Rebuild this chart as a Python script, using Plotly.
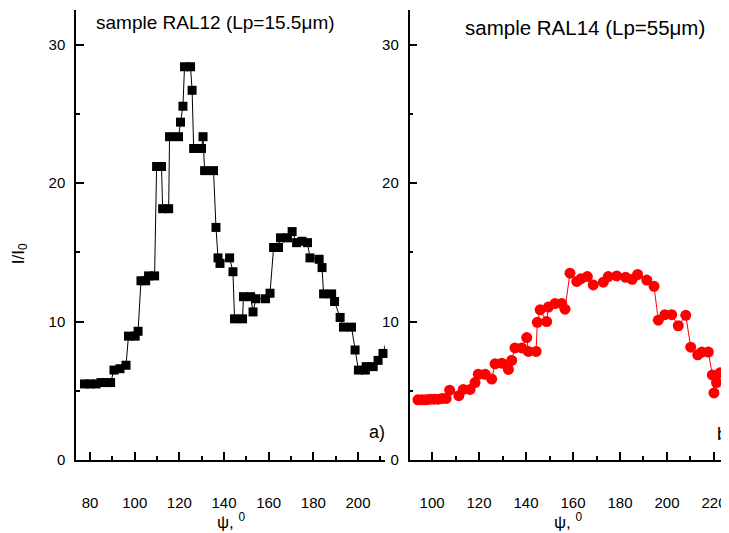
import plotly.graph_objects as go

# Panel a) sample RAL12 (black squares)
psi_a = [77.5, 80.0, 82.7, 84.9, 87.2, 89.2, 90.7, 93.4, 96.1, 97.2,
         100.2, 101.5, 102.8, 104.9, 106.2, 108.9, 109.8, 112.0, 112.5, 115.2,
         115.6, 119.6, 120.5, 121.6, 122.3, 125.0, 125.7, 126.4, 129.9, 130.6,
         131.3, 135.3, 136.4, 137.3, 138.2, 142.5, 144.0, 144.7, 148.3, 148.7,
         151.9, 153.0, 154.3, 158.6, 160.6, 162.2, 164.4, 165.3, 168.4, 170.5,
         172.5, 174.9, 177.4, 178.5, 182.6, 183.9, 184.6, 188.2, 189.5, 192.0,
         193.5, 197.1, 198.7, 200.2, 203.3, 203.7, 206.8, 209.0, 211.2, 213.4,
         213.9]
I_a = [5.5, 5.5, 5.5, 5.6, 5.6, 5.6, 6.5, 6.6, 6.85, 8.95,
       8.95, 9.3, 12.95, 12.95, 13.3, 13.3, 21.2, 21.2, 18.15, 18.15,
       23.35, 23.35, 24.4, 25.55, 28.4, 28.4, 26.7, 22.5, 22.5, 23.35,
       20.9, 20.9, 16.8, 14.6, 14.2, 14.6, 13.6, 10.2, 10.2, 11.8,
       11.8, 10.7, 11.65, 11.65, 12.05, 15.35, 15.35, 16.05, 16.05, 16.5,
       15.7, 15.8, 15.7, 14.6, 14.5, 13.9, 12.0, 12.0, 11.45, 10.3,
       9.6, 9.6, 7.95, 6.5, 6.5, 6.75, 6.75, 7.2, 7.7, 9.0,
       7.6]

# Panel b) sample RAL14 (red circles)
psi_b = [94.0, 95.7, 97.4, 99.1, 100.9, 102.6, 104.3, 106.0, 107.5, 111.4,
         113.3, 116.2, 118.3, 119.7, 122.6, 125.4, 126.8, 129.7, 132.5, 133.9,
         135.3, 138.2, 140.3, 141.0, 144.3, 144.8, 146.0, 148.8, 149.5, 152.3,
         155.2, 156.6, 158.7, 161.6, 163.4, 166.1, 168.6, 172.9, 175.0, 178.6,
         182.4, 185.2, 187.5, 191.4, 194.5, 196.3, 199.1, 202.0, 204.8, 208.0,
         210.1, 213.1, 214.8, 217.6, 219.3, 220.0, 221.1, 222.6, 224.7]
I_b = [4.35, 4.35, 4.35, 4.4, 4.4, 4.4, 4.45, 4.45, 5.05, 4.65,
       5.1, 5.1, 5.6, 6.2, 6.2, 5.85, 6.95, 7.0, 6.55, 7.2,
       8.1, 8.1, 8.85, 7.85, 7.85, 9.95, 10.85, 10.0, 11.05, 11.3,
       11.3, 10.9, 13.5, 12.9, 13.1, 13.25, 12.65, 12.85, 13.25, 13.3,
       13.2, 13.05, 13.4, 13.0, 12.55, 10.1, 10.5, 10.5, 9.7, 10.45,
       8.15, 7.6, 7.8, 7.8, 6.15, 4.85, 5.6, 6.3, 6.3]

x_ticks_a = [80, 100, 120, 140, 160, 180, 200]
x_ticks_b = [100, 120, 140, 160, 180, 200, 220]
y_ticks = [0, 10, 20, 30]

W, H = 729, 533
OFF = 8  # the page body adds an 8 px margin around the figure
FONT = "Arial, Liberation Sans, sans-serif"


def sx(x):  # screen px -> paper fraction
    return (x - OFF) / W


def sy(y):
    return 1 - (y - OFF) / H


fig = go.Figure()
fig.add_trace(go.Scatter(
    x=psi_a, y=I_a, mode="lines+markers", xaxis="x", yaxis="y",
    marker=dict(symbol="square", size=9, color="black", line=dict(width=0)),
    line=dict(color="black", width=1), cliponaxis=False, showlegend=False))
fig.add_trace(go.Scatter(
    x=psi_b, y=I_b, mode="lines+markers", xaxis="x2", yaxis="y2",
    marker=dict(symbol="circle", size=11, color="#ff0000", line=dict(width=0)),
    line=dict(color="#ff0000", width=1), cliponaxis=False, showlegend=False))

ax_common = dict(showline=True, linecolor="black", linewidth=1.5, ticks="inside",
                 ticklen=8, tickwidth=1.5, tickcolor="black", showgrid=False,
                 zeroline=False, tickfont=dict(family=FONT, size=15, color="black"))


def minor(d):
    return dict(ticks="inside", ticklen=4, dtick=d, tick0=0,
                tickcolor="black", tickwidth=1.5)


y_dom = [sy(467), sy(10)]
fig.update_layout(
    width=W, height=H, margin=dict(l=0, r=0, t=0, b=0),
    paper_bgcolor="white", plot_bgcolor="white",
    font=dict(family=FONT, color="black"),
    xaxis=dict(domain=[sx(76), sx(385)], range=[73.7, 212.1], anchor="y",
               tickvals=x_ticks_a, ticklabelstandoff=28, minor=minor(10), **ax_common),
    yaxis=dict(domain=y_dom, range=[0, 32.5], anchor="x", tickvals=y_ticks,
               ticklabelstandoff=6, minor=minor(5), **ax_common),
    xaxis2=dict(domain=[sx(409.5), sx(729)], range=[90.4, 226.4], anchor="y2",
                tickvals=x_ticks_b, ticklabelstandoff=28, minor=minor(10), **ax_common),
    yaxis2=dict(domain=y_dom, range=[0, 32.5], anchor="x2", tickvals=y_ticks,
                ticklabelstandoff=6, minor=minor(5), **ax_common),
)

ann = [
    dict(text="sample RAL12 (Lp=15.5μm)", x=215, y=23, size=19, anchor="center"),
    dict(text="sample RAL14 (Lp=55μm)", x=585, y=28, size=20.5, anchor="center"),
    dict(text="a)", x=377, y=438, size=18, anchor="center"),
    dict(text="b)", x=715, y=440, size=18, anchor="left"),
    dict(text="ψ, <sup>0</sup>", x=231, y=529, size=17, anchor="center"),
    dict(text="ψ, <sup>0</sup>", x=568, y=529, size=17, anchor="center"),
]
for a in ann:
    fig.add_annotation(text=a["text"], x=sx(a["x"]), y=sy(a["y"]), xref="paper", yref="paper",
                       showarrow=False, xanchor=a["anchor"], yanchor="middle",
                       font=dict(family=FONT, size=a["size"], color="black"))
fig.add_annotation(text="I/I<sub>0</sub>", x=sx(20), y=sy(258), xref="paper", yref="paper",
                   showarrow=False, textangle=-90, xanchor="center", yanchor="middle",
                   font=dict(family=FONT, size=17, color="black"))

fig.write_html("out.html")
